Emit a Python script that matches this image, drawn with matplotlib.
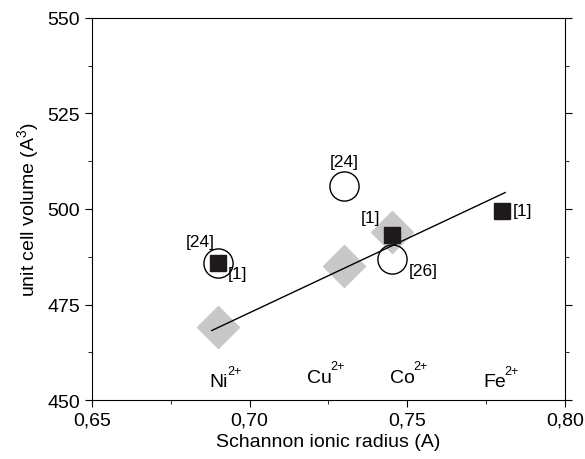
import matplotlib
matplotlib.use("Agg")
import matplotlib.pyplot as plt
from matplotlib.ticker import MultipleLocator, FuncFormatter

plt.rcParams['font.family'] = ['Liberation Sans', 'DejaVu Sans']
plt.rcParams['mathtext.fontset'] = 'custom'
plt.rcParams['mathtext.rm'] = 'Liberation Sans'

# data
diamond_x = [0.690, 0.730, 0.745]
diamond_y = [469.0, 485.0, 494.0]

square_x = [0.690, 0.745, 0.780]
square_y = [486.0, 493.3, 499.5]

circle_x = [0.690, 0.730, 0.745]
circle_y = [486.0, 506.0, 487.0]

fit_x = [0.688, 0.781]
fit_y = [468.2, 504.3]

ions = ['Ni', 'Cu', 'Co', 'Fe']
ion_x = [0.6874, 0.7182, 0.7445, 0.7740]
ion_y = [453.6, 454.8, 454.8, 453.6]

refs = ['[24]', '[1]', '[24]', '[1]', '[26]', '[1]']
ref_x = [0.6845, 0.6963, 0.730, 0.7382, 0.7550, 0.7866]
ref_y = [491.5, 483.0, 512.5, 497.9, 483.8, 499.7]

fig = plt.figure(figsize=(5.85, 4.6), dpi=100)
ax = fig.add_axes([0.157, 0.128, 0.809, 0.831])

ax.plot(diamond_x, diamond_y, 'D', color='#c8c8c8', markersize=21, zorder=2)
ax.plot(fit_x, fit_y, '-', color='black', linewidth=1.0, zorder=3)
ax.plot(circle_x, circle_y, 'o', markerfacecolor='none', markeredgecolor='black',
        markeredgewidth=1.0, markersize=21, zorder=4)
ax.plot(square_x, square_y, 's', color='#1e1a1b', markersize=11, zorder=5)

ion_texts = []
for name, x, y in zip(ions, ion_x, ion_y):
    ion_texts.append(ax.text(x, y, name, ha='left', va='baseline', fontsize=14))

for r, x, y in zip(refs, ref_x, ref_y):
    ax.text(x, y, r, ha='center', va='center', fontsize=12.5)

ax.set_xlim(0.65, 0.80)
ax.set_ylim(450, 550)
ax.xaxis.set_major_locator(MultipleLocator(0.05))
ax.xaxis.set_minor_locator(MultipleLocator(0.025))
ax.yaxis.set_major_locator(MultipleLocator(25))
ax.yaxis.set_minor_locator(MultipleLocator(12.5))
ax.xaxis.set_major_formatter(FuncFormatter(lambda v, p: f'{v:.2f}'.replace('.', ',')))

ax.tick_params(which='both', direction='out', labelsize=14, top=False, right=True)
ax.tick_params(which='major', length=5)
ax.tick_params(which='minor', length=3)

ax.set_xlabel('Schannon ionic radius (A)', fontsize=14, labelpad=3)
ax.set_ylabel(r'unit cell volume (A$^{3}$)', fontsize=14, labelpad=4)

# small superscripts after the ion names, placed from the baseline
fig.canvas.draw()
for t, x, y in zip(ion_texts, ion_x, ion_y):
    bb = t.get_window_extent()
    base = ax.transData.transform((x, y))[1]
    ax.annotate('2+', xy=(bb.x1, base), xycoords='figure pixels',
                xytext=(-1, 9), textcoords='offset points',
                ha='left', va='baseline', fontsize=9)

fig.savefig('out.png', dpi=100)
